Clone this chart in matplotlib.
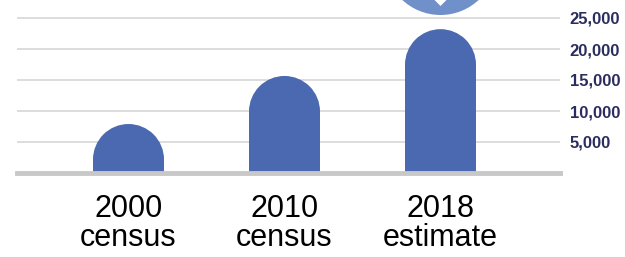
import matplotlib.pyplot as plt
from matplotlib.patches import Rectangle, Ellipse, Polygon

categories = ["2000\ncensus", "2010\ncensus", "2018\nestimate"]
values = [7900, 15650, 23200]
yticks = [5000, 10000, 15000, 20000, 25000]

W, H = 625, 257
fig = plt.figure(figsize=(W / 100, H / 100), dpi=100)
ax = fig.add_axes([17 / W, (H - 173) / H, (560 - 17) / W, 173 / H])

px_x = 156.0              # pixels per category step
px_y = 31.0 / 5000        # pixels per data unit
ax.set_xlim(-111.5 / px_x, (560 - 128.5) / px_x)
ax.set_ylim(0, 173 / px_y)

bar_color = "#4a69b0"
bw = 71 / px_x
r_y = 35.5 / px_y

for i, v in enumerate(values):
    ax.add_patch(Rectangle((i - bw / 2, 0), bw, v - r_y, color=bar_color, lw=0, zorder=3))
    ax.add_patch(Ellipse((i, v - r_y), bw, 2 * r_y, color=bar_color, lw=0, zorder=3))

# gridlines and baseline
for t in yticks:
    ax.axhline(t, color="#dddddd", lw=1.4, zorder=1)
ax.axhline(0, color="#c8c8c8", lw=3.5, zorder=4, clip_on=False)

# marker circle above the last bar
cy = (173 + 41) / px_y
ax.add_patch(Ellipse((2, cy), 112 / px_x, 112 / px_y,
                     color="#7090c9", lw=0, zorder=3, clip_on=False))
ax.add_patch(Polygon([(2 - 9 / px_x, (173 + 3) / px_y), (2 + 9 / px_x, (173 + 3) / px_y),
                      (2, (173 - 6) / px_y)], closed=True, color="white", lw=0,
                     zorder=4, clip_on=False))

ax.set_xticks(range(len(categories)))
ax.set_xticklabels(categories, fontsize=22, family="Liberation Sans", linespacing=0.95)
ax.tick_params(axis="x", length=0, pad=15)

ax.yaxis.tick_right()
ax.set_yticks(yticks)
ax.set_yticklabels([f"{t:,}" for t in yticks], fontsize=12, fontweight="bold",
                   family="Liberation Sans", color="#2b2d5e", ha="left")
ax.tick_params(axis="y", length=0, pad=7)

for s in ax.spines.values():
    s.set_visible(False)

fig.savefig("out.png", dpi=100)
